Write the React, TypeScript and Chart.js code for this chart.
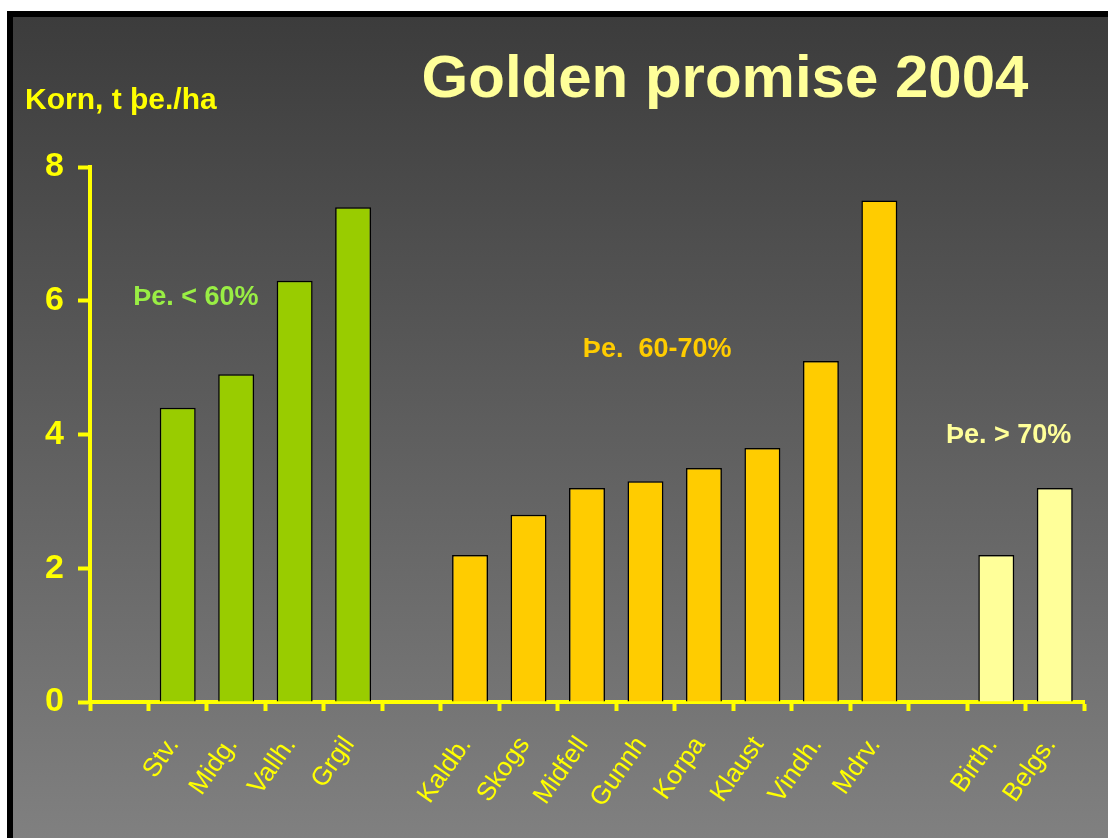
import React, { useEffect, useRef } from "react";
import { Chart, registerables } from "chart.js";

Chart.register(...registerables);

const titleText = "Golden promise 2004";
const yAxisTitle = "Korn, t þe./ha";

const lowLabels = ["Stv.", "Midg.", "Vallh.", "Grgil"];
const lowValues = [4.4, 4.9, 6.3, 7.4];
const midLabels = ["Kaldb.", "Skogs", "Midfell", "Gunnh", "Korpa", "Klaust", "Vindh.", "Mdrv."];
const midValues = [2.2, 2.8, 3.2, 3.3, 3.5, 3.8, 5.1, 7.5];
const highLabels = ["Birth.", "Belgs."];
const highValues = [2.2, 3.2];
const groupNotes = ["Þe. < 60%", "Þe.  60-70%", "Þe. > 70%"];
const yTicks = [0, 2, 4, 6, 8];

const lowColor = "#99cc00";
const midColor = "#ffcc00";
const highColor = "#ffff99";
const noteColors = ["#99ee44", "#ffcc00", "#ffff99"];
const axisColor = "#ffff00";
const FONT = '"Liberation Sans", Arial, Helvetica, sans-serif';

// categories with an empty slot before each group
const categories: string[] = ["", ...lowLabels, "", ...midLabels, "", ...highLabels];
const lowStart = 1;
const midStart = 1 + lowLabels.length + 1;
const highStart = midStart + midLabels.length + 1;

function placed(start: number, vals: number[]): (number | null)[] {
  const arr: (number | null)[] = categories.map(() => null);
  vals.forEach((v, i) => (arr[start + i] = v));
  return arr;
}

const textPlugin = {
  id: "slideText",
  afterDraw(chart: any) {
    const ctx = chart.ctx;
    const xs = chart.scales.x;
    const ys = chart.scales.y;
    const slot = xs.getPixelForValue(1) - xs.getPixelForValue(0);
    ctx.save();
    // title
    ctx.fillStyle = "#ffff99";
    ctx.font = `bold 60px ${FONT}`;
    ctx.textAlign = "center";
    ctx.textBaseline = "alphabetic";
    ctx.fillText(titleText, 712, 80);
    // y-axis title
    ctx.fillStyle = axisColor;
    ctx.font = `bold 30px ${FONT}`;
    ctx.textAlign = "left";
    ctx.fillText(yAxisTitle, 12, 92);
    // group notes
    const notePos = [
      [lowStart + 0.31, 5.94],
      [midStart + 3.2, 5.16],
      [highStart + 0.21, 3.87],
    ];
    ctx.font = `bold 27px ${FONT}`;
    ctx.textAlign = "center";
    groupNotes.forEach((t, i) => {
      ctx.fillStyle = noteColors[i];
      const x = xs.getPixelForValue(Math.floor(notePos[i][0])) + (notePos[i][0] % 1) * slot;
      ctx.fillText(t, x, ys.getPixelForValue(notePos[i][1]));
    });
    ctx.restore();
  },
};

export default function App() {
  const ref = useRef<HTMLCanvasElement>(null);
  useEffect(() => {
    if (!ref.current) return;
    const common = {
      borderColor: "#000000",
      borderWidth: 1.5,
      borderSkipped: "bottom",
      barPercentage: 0.615,
      categoryPercentage: 1,
      grouped: false,
      skipNull: true,
    };
    const chart = new Chart(ref.current, {
      type: "bar",
      data: {
        labels: categories,
        datasets: [
          { ...common, data: placed(lowStart, lowValues), backgroundColor: lowColor },
          { ...common, data: placed(midStart, midValues), backgroundColor: midColor },
          { ...common, data: placed(highStart, highValues), backgroundColor: highColor },
        ] as any,
      },
      options: {
        responsive: false,
        animation: false,
        devicePixelRatio: 1,
        layout: { padding: { top: 150, right: 24, left: 0, bottom: 0 } },
        plugins: { legend: { display: false }, tooltip: { enabled: false }, title: { display: false } },
        scales: {
          x: {
            offset: true,
            afterFit: (s: any) => {
              s.height = 136;
            },
            border: { display: true, color: axisColor, width: 4 },
            grid: {
              display: true,
              offset: true,
              drawOnChartArea: false,
              drawTicks: true,
              tickLength: 9,
              tickWidth: 4,
              tickColor: axisColor,
              color: axisColor,
            },
            ticks: {
              color: axisColor,
              font: { family: FONT, size: 26 },
              minRotation: 55,
              maxRotation: 55,
              autoSkip: false,
              padding: 20,
              labelOffset: -4,
            },
          },
          y: {
            min: 0,
            max: 8,
            afterFit: (s: any) => {
              s.width = 77;
            },
            afterBuildTicks: (s: any) => {
              s.ticks = yTicks.map((v) => ({ value: v }));
            },
            border: { display: true, color: axisColor, width: 4 },
            grid: {
              display: true,
              drawOnChartArea: false,
              drawTicks: true,
              tickLength: 12,
              tickWidth: 4,
              tickColor: axisColor,
              color: axisColor,
            },
            ticks: {
              color: axisColor,
              font: { family: FONT, size: 34, weight: "bold" },
              padding: 14,
            },
          },
        },
      },
      plugins: [textPlugin],
    });
    return () => chart.destroy();
  }, []);

  return (
    <div
      style={{
        position: "absolute",
        left: 0,
        top: 0,
        width: 1108,
        height: 838,
        background: "#ffffff",
        overflow: "hidden",
      }}
    >
      <div
        style={{
          position: "absolute",
          left: 7,
          top: 11,
          width: 1101,
          height: 827,
          boxSizing: "border-box",
          borderTop: "6px solid #000",
          borderLeft: "6px solid #000",
          background: "linear-gradient(to bottom, #3c3c3c 0%, #808080 100%)",
        }}
      >
        <canvas ref={ref} width={1095} height={821} style={{ position: "absolute", left: 0, top: 0 }} />
      </div>
    </div>
  );
}
